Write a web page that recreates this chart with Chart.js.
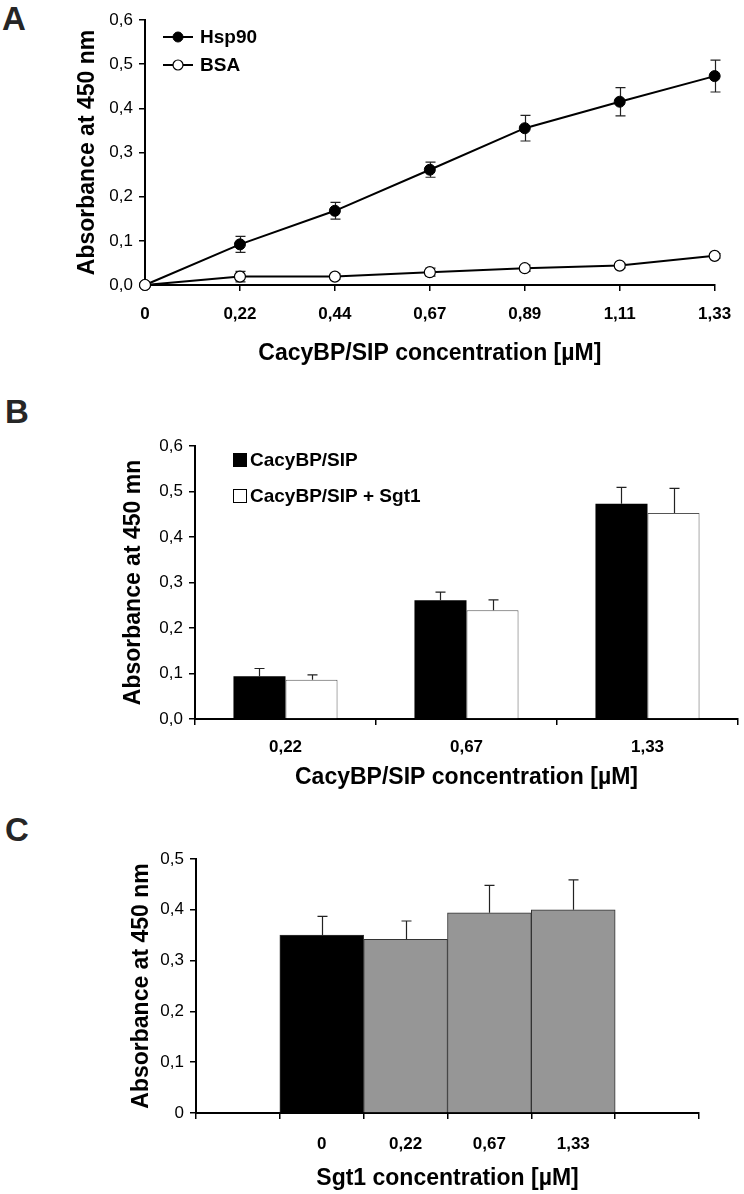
<!DOCTYPE html>
<html>
<head>
<meta charset="utf-8">
<script src="https://cdn.jsdelivr.net/npm/chart.js@4.4.0/dist/chart.umd.min.js"></script>
<style>
  html, body { margin: 0; padding: 0; background: #fff; }
  body { width: 744px; height: 1194px; position: relative; overflow: hidden; font-family: 'Liberation Sans', Arial, Helvetica, sans-serif; }
  .panel { position: absolute; left: 0; width: 744px; }
  .letter { position: absolute; font-weight: bold; font-size: 33px; line-height: 1; color: #262626; }
</style>
</head>
<body>
<div class="letter" style="left:2px;top:2px">A</div>
<div class="letter" style="left:5px;top:395px">B</div>
<div class="letter" style="left:5px;top:813px">C</div>

<div class="panel" style="top:0px;height:380px"><canvas id="chartA" width="744" height="380"></canvas></div>
<div class="panel" style="top:390px;height:410px"><canvas id="chartB" width="744" height="410"></canvas></div>
<div class="panel" style="top:800px;height:394px"><canvas id="chartC" width="744" height="394"></canvas></div>

<script>
// ---------- DATA ----------
// Panel A
const lineCategories = ['0', '0,22', '0,44', '0,67', '0,89', '1,11', '1,33'];
const hsp90Values = [0, 0.092, 0.168, 0.261, 0.355, 0.415, 0.473];
const hsp90Errors = [0, 0.018, 0.019, 0.017, 0.029, 0.032, 0.036];
const bsaValues   = [0, 0.019, 0.019, 0.029, 0.038, 0.044, 0.066];
const bsaErrors   = [0, 0.012, 0.006, 0.009, 0.007, 0.005, 0.005];

// Panel B
const barBCategories = ['0,22', '0,67', '1,33'];
const cacyValues      = [0.094, 0.261, 0.473];
const cacyErrors      = [0.017, 0.018, 0.036];
const cacySgt1Values  = [0.086, 0.239, 0.453];
const cacySgt1Errors  = [0.011, 0.023, 0.054];

// Panel C
const barCCategories = ['', '0', '0,22', '0,67', '1,33', ''];
const sgt1Values = [null, 0.350, 0.342, 0.394, 0.400, null];
const sgt1Errors = [null, 0.037, 0.036, 0.054, 0.059, null];

// ---------- STYLE HELPERS ----------
const FONT = "'Liberation Sans', Arial, Helvetica, sans-serif";
Chart.defaults.font.family = FONT;
Chart.defaults.color = '#000';

const commaFmt = v => Number(v).toFixed(1).replace('.', ',');
const commaFmtZero = v => (Math.abs(v) < 1e-9 ? '0' : Number(v).toFixed(1).replace('.', ','));

function drawErrors(chart, o) {
  const ctx = chart.ctx;
  const yS = chart.scales.y;
  chart.data.datasets.forEach((ds, i) => {
    if (!ds.errors) return;
    const meta = chart.getDatasetMeta(i);
    meta.data.forEach((el, j) => {
      const v = ds.data[j], e = ds.errors[j];
      if (v == null || !e) return;
      const x = Math.round(el.x) + 0.5;
      const yTop = yS.getPixelForValue(v + e);
      const yBot = o.mode === 'both' ? yS.getPixelForValue(v - e) : yS.getPixelForValue(v);
      ctx.save();
      ctx.strokeStyle = o.color;
      ctx.lineWidth = o.lineWidth;
      ctx.beginPath();
      ctx.moveTo(x, yBot); ctx.lineTo(x, yTop);
      ctx.moveTo(x - o.cap, yTop); ctx.lineTo(x + o.cap, yTop);
      if (o.mode === 'both') { ctx.moveTo(x - o.cap, yBot); ctx.lineTo(x + o.cap, yBot); }
      ctx.stroke();
      ctx.restore();
    });
  });
}
const errorBarPlugin = {
  id: 'errorBars',
  beforeDatasetsDraw(chart, args, o) { if (o.layer === 'before') drawErrors(chart, o); },
  afterDatasetsDraw(chart, args, o) { if (o.layer !== 'before') drawErrors(chart, o); }
};

const legendPlugin = {
  id: 'panelLegend',
  afterDraw(chart, args, o) {
    const ctx = chart.ctx;
    o.items.forEach((idx, k) => {
      const ds = chart.data.datasets[idx];
      const y = o.y + k * o.gap;
      ctx.save();
      if (o.kind === 'line') {
        ctx.strokeStyle = ds.borderColor;
        ctx.lineWidth = ds.borderWidth;
        ctx.beginPath();
        ctx.moveTo(o.x, y); ctx.lineTo(o.x + o.lineLen, y);
        ctx.stroke();
        ctx.beginPath();
        ctx.arc(o.x + o.lineLen / 2, y, o.radius, 0, Math.PI * 2);
        ctx.fillStyle = ds.pointBackgroundColor;
        ctx.fill();
        ctx.lineWidth = ds.pointBorderWidth;
        ctx.strokeStyle = ds.pointBorderColor;
        ctx.stroke();
      } else {
        ctx.fillStyle = ds.backgroundColor;
        ctx.fillRect(o.x, y - o.box / 2, o.box, o.box);
        ctx.strokeStyle = '#000';
        ctx.lineWidth = 1;
        ctx.strokeRect(o.x + 0.5, y - o.box / 2 + 0.5, o.box - 1, o.box - 1);
      }
      ctx.fillStyle = '#000';
      ctx.font = 'bold ' + o.fontSize + 'px ' + FONT;
      ctx.textBaseline = 'middle';
      ctx.textAlign = 'left';
      ctx.fillText(ds.label, o.x + o.textOffset, y + 1);
      ctx.restore();
    });
  }
};

function yAxis(max, fmt, titleText, titlePad, width) {
  return {
    min: 0, max: max,
    ticks: { stepSize: 0.1, color: '#000', font: { size: 17 }, padding: 6, callback: fmt },
    grid: { drawOnChartArea: false, drawTicks: true, tickLength: 6, color: '#000', lineWidth: 1.5 },
    border: { display: true, color: '#000', width: 2 },
    title: { display: true, text: titleText, color: '#000', font: { size: 23, weight: 'bold' }, padding: { top: titlePad, bottom: 0 } },
    afterFit(s) { s.width = width; }
  };
}
function xAxis(offset, tickPad, titleText, titlePadBottom, height) {
  return {
    offset: offset,
    ticks: { color: '#000', font: { size: 17, weight: 'bold' }, padding: tickPad, maxRotation: 0, autoSkip: false },
    grid: { offset: offset, drawOnChartArea: false, drawTicks: true, tickLength: 6, color: '#000', lineWidth: 1.5 },
    border: { display: true, color: '#000', width: 2 },
    title: { display: true, text: titleText, color: '#000', font: { size: 23, weight: 'bold' }, padding: { top: 0, bottom: titlePadBottom } },
    afterFit(s) { s.height = height; }
  };
}

// ---------- PANEL A ----------
new Chart(document.getElementById('chartA'), {
  type: 'line',
  data: {
    labels: lineCategories,
    datasets: [
      { label: 'Hsp90', data: hsp90Values, errors: hsp90Errors, order: 1,
        borderColor: '#000', borderWidth: 2, tension: 0, clip: false,
        pointRadius: 5.5, pointBackgroundColor: '#000', pointBorderColor: '#000', pointBorderWidth: 1 },
      { label: 'BSA', data: bsaValues, errors: bsaErrors, order: 0,
        borderColor: '#000', borderWidth: 2, tension: 0, clip: false,
        pointRadius: 5.5, pointBackgroundColor: '#fff', pointBorderColor: '#000', pointBorderWidth: 1.2 }
    ]
  },
  options: {
    responsive: false, animation: false, devicePixelRatio: 1,
    layout: { padding: { left: 0, top: 20, right: 17, bottom: 0 } },
    scales: {
      x: xAxis(false, 12.8, 'CacyBP/SIP concentration [µM]', 12.2, 95),
      y: yAxis(0.6, commaFmt, 'Absorbance at 450 nm', 74.2, 145)
    },
    plugins: {
      legend: { display: false }, tooltip: { enabled: false },
      errorBars: { layer: 'before', mode: 'both', cap: 5, color: '#222', lineWidth: 1.2 },
      panelLegend: { kind: 'line', items: [0, 1], x: 163, y: 37, gap: 28, lineLen: 30, radius: 5, textOffset: 37, fontSize: 19 }
    }
  },
  plugins: [errorBarPlugin, legendPlugin]
});

// ---------- PANEL B ----------
new Chart(document.getElementById('chartB'), {
  type: 'bar',
  data: {
    labels: barBCategories,
    datasets: [
      { label: 'CacyBP/SIP', data: cacyValues, errors: cacyErrors,
        backgroundColor: '#000', borderColor: '#000', borderWidth: 0,
        categoryPercentage: 0.575, barPercentage: 1 },
      { label: 'CacyBP/SIP + Sgt1', data: cacySgt1Values, errors: cacySgt1Errors,
        backgroundColor: '#fff', borderColor: '#555', borderWidth: 1,
        categoryPercentage: 0.575, barPercentage: 1 }
    ]
  },
  options: {
    responsive: false, animation: false, devicePixelRatio: 1,
    layout: { padding: { left: 0, top: 56, right: 6, bottom: 0 } },
    scales: {
      x: xAxis(true, 11.8, 'CacyBP/SIP concentration [µM]', 8.2, 81),
      y: yAxis(0.6, commaFmt, 'Absorbance at 450 mn', 120.2, 195)
    },
    plugins: {
      legend: { display: false }, tooltip: { enabled: false },
      errorBars: { layer: 'after', mode: 'up', cap: 5, color: '#222', lineWidth: 1.2 },
      panelLegend: { kind: 'box', items: [0, 1], x: 233, y: 70, gap: 36, box: 14, textOffset: 17, fontSize: 19 }
    }
  },
  plugins: [errorBarPlugin, legendPlugin]
});

// ---------- PANEL C ----------
new Chart(document.getElementById('chartC'), {
  type: 'bar',
  data: {
    labels: barCCategories,
    datasets: [
      { label: 'Sgt1', data: sgt1Values, errors: sgt1Errors,
        backgroundColor: c => (c.dataIndex === 1 ? '#000' : '#969696'),
        borderColor: '#333', borderWidth: 1,
        categoryPercentage: 1, barPercentage: 1 }
    ]
  },
  options: {
    responsive: false, animation: false, devicePixelRatio: 1,
    layout: { padding: { left: 0, top: 59, right: 45, bottom: 0 } },
    scales: {
      x: xAxis(true, 14.8, 'Sgt1 concentration [µM]', 1.2, 81),
      y: yAxis(0.5, commaFmtZero, 'Absorbance at 450 nm', 128.2, 196)
    },
    plugins: {
      legend: { display: false }, tooltip: { enabled: false },
      errorBars: { layer: 'after', mode: 'up', cap: 5, color: '#222', lineWidth: 1.2 }
    }
  },
  plugins: [errorBarPlugin]
});
</script>
</body>
</html>
